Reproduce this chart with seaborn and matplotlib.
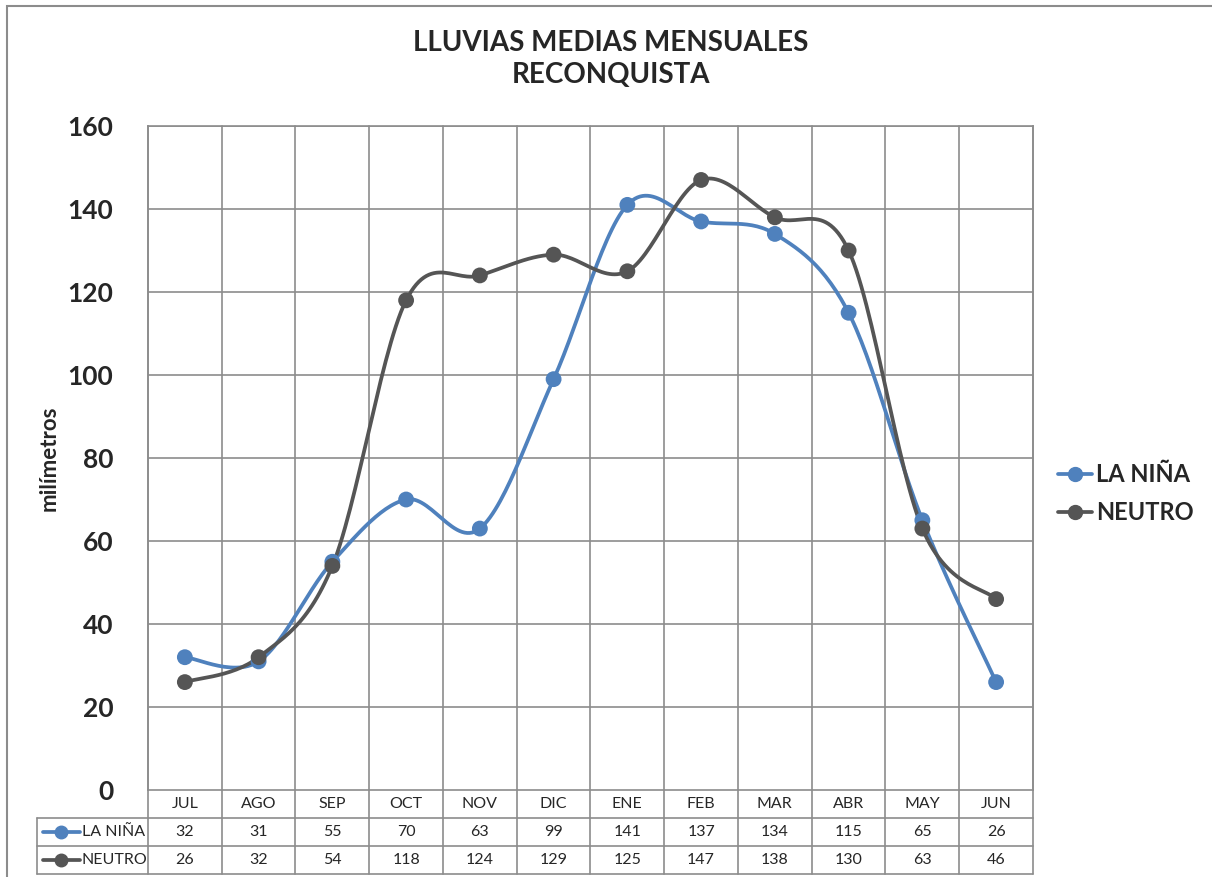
import numpy as np
import pandas as pd
import matplotlib
matplotlib.use("Agg")
import matplotlib.pyplot as plt
import matplotlib.transforms as mtransforms
from matplotlib.lines import Line2D
import seaborn as sns

# datos
meses = ["JUL", "AGO", "SEP", "OCT", "NOV", "DIC", "ENE", "FEB", "MAR", "ABR", "MAY", "JUN"]
la_nina = [32, 31, 55, 70, 63, 99, 141, 137, 134, 115, 65, 26]
neutro = [26, 32, 54, 118, 124, 129, 125, 147, 138, 130, 63, 46]
series = ["LA NIÑA", "NEUTRO"]
colores = {"LA NIÑA": "#4F81BD", "NEUTRO": "#555555"}

sns.set_theme(style="white")
plt.rcParams["font.family"] = ["Lato", "DejaVu Sans"]

grid_col = "#8c8c8c"


def suavizar(y, n=30):
    # curva tipo Excel (bezier con tension 1/6) solo para el trazo
    y = np.asarray(y, dtype=float)
    x = np.arange(len(y), dtype=float)
    p = np.column_stack([x, y])
    xs, ys = [], []
    for i in range(len(p) - 1):
        p0 = p[i - 1] if i > 0 else p[i]
        p3 = p[i + 2] if i + 2 < len(p) else p[i + 1]
        c1 = p[i] + (p[i + 1] - p0) / 6
        c2 = p[i + 1] - (p3 - p[i]) / 6
        t = np.linspace(0, 1, n)[:, None]
        b = ((1 - t) ** 3) * p[i] + 3 * ((1 - t) ** 2) * t * c1 + 3 * (1 - t) * t ** 2 * c2 + t ** 3 * p[i + 1]
        xs.extend(b[:, 0])
        ys.extend(b[:, 1])
    return xs, ys


curvas = []
puntos = []
for nombre, vals in zip(series, [la_nina, neutro]):
    xs, ys = suavizar(vals)
    curvas.append(pd.DataFrame({"x": xs, "y": ys, "serie": nombre}))
    puntos.append(pd.DataFrame({"x": range(len(vals)), "y": vals, "serie": nombre}))
curvas = pd.concat(curvas, ignore_index=True)
puntos = pd.concat(puntos, ignore_index=True)

fig = plt.figure(figsize=(12.12, 8.77), dpi=100)
ax = fig.add_axes([0.1221, 0.0992, 0.7302, 0.7571])

sns.lineplot(data=curvas, x="x", y="y", hue="serie", palette=colores, linewidth=2.7,
             sort=False, estimator=None, legend=False, ax=ax, zorder=3)
sns.scatterplot(data=puntos, x="x", y="y", hue="serie", palette=colores, s=130,
                edgecolor="none", legend=False, ax=ax, zorder=4)

ax.set_xlim(-0.5, 11.5)
ax.set_ylim(0, 160)
ax.set_yticks(range(0, 161, 20))
ax.set_yticklabels([str(v) for v in range(0, 161, 20)], fontsize=19, fontweight="bold")
ax.tick_params(axis="y", length=0, pad=25)
ax.set_xticks([])
ax.set_xlabel("")
ax.set_ylabel("milímetros", fontsize=16, fontweight="bold")
ax.yaxis.set_label_coords(-0.1, 0.5)
for v in range(20, 161, 20):
    ax.axhline(v, color=grid_col, lw=1.2, zorder=1)
for s in ax.spines.values():
    s.set_color(grid_col)
    s.set_linewidth(1.2)

# tabla de datos debajo del grafico
tr = mtransforms.blended_transform_factory(ax.transData, ax.transAxes)
h = 28 / 664
for k in range(13):
    xv = k - 0.5
    ax.plot([xv, xv], [1, -3 * h], color=grid_col, lw=1.2, transform=tr, clip_on=False, zorder=1)
ax.plot([-2, -2], [-h, -3 * h], color=grid_col, lw=1.2, transform=tr, clip_on=False)
for yv in [-h, -2 * h, -3 * h]:
    ax.plot([-2, 11.5], [yv, yv], color=grid_col, lw=1.2, transform=tr, clip_on=False)

for i, m in enumerate(meses):
    ax.text(i, -0.5 * h, m, ha="center", va="center", fontsize=11.5, transform=tr)
    ax.text(i, -1.5 * h, str(la_nina[i]), ha="center", va="center", fontsize=11.5, transform=tr)
    ax.text(i, -2.5 * h, str(neutro[i]), ha="center", va="center", fontsize=11.5, transform=tr)

for r, nombre in enumerate(series):
    yy = -(1.5 + r) * h
    ax.plot([-1.93, -1.42], [yy, yy], color=colores[nombre], lw=2.7, transform=tr, clip_on=False)
    ax.plot([-1.675], [yy], "o", color=colores[nombre], ms=9, transform=tr, clip_on=False)
    ax.text(-1.40, yy, nombre, ha="left", va="center", fontsize=11.5, transform=tr)

fig.text(0.504, 0.933, "LLUVIAS MEDIAS MENSUALES\nRECONQUISTA", ha="center", va="center",
         fontsize=20, fontweight="bold", linespacing=1.3)

handles = [Line2D([0], [0], color=colores[n], lw=2.7, marker="o", ms=10) for n in series]
leg = fig.legend(handles, series, loc="center left", bbox_to_anchor=(1058 / 1212, 0.437),
                 frameon=False, prop={"size": 17, "weight": "bold"}, handlelength=1.45,
                 handletextpad=0.15, labelspacing=0.65, borderpad=0, borderaxespad=0)

# borde del area del grafico
fig.add_artist(plt.Rectangle((7 / 1212, -0.1), 1.2, 1 - 6 / 877 + 0.1, transform=fig.transFigure,
                             fill=False, edgecolor=grid_col, lw=1.5))

fig.savefig("out.png", dpi=100)
